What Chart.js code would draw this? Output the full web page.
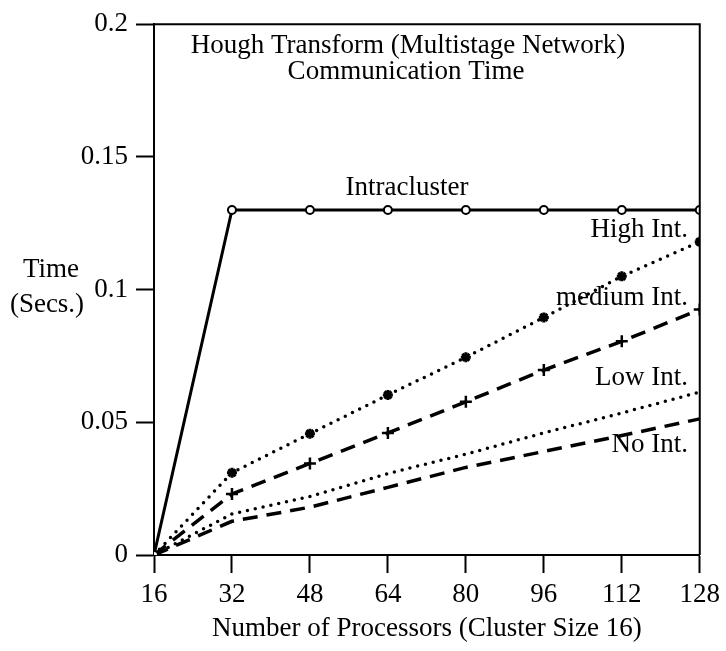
<!DOCTYPE html>
<html>
<head>
<meta charset="utf-8">
<script src="https://cdn.jsdelivr.net/npm/chart.js@4/dist/chart.umd.min.js"></script>
<style>
  html, body { margin: 0; padding: 0; background: #fff; }
  #wrap { width: 726px; height: 651px; }
</style>
</head>
<body>
<div id="wrap"><canvas id="chart" width="726" height="651"></canvas></div>
<script>
// processors on the x axis
const processors = [16, 32, 48, 64, 80, 96, 112, 128];
// communication time (secs) per configuration
const intracluster = [0, 0.13, 0.13, 0.13, 0.13, 0.13, 0.13, 0.13];
const highInt = [0, 0.031, 0.0457, 0.0603, 0.0745, 0.0895, 0.105, 0.118];
const mediumInt = [0, 0.023, 0.0345, 0.046, 0.0577, 0.0697, 0.0805, 0.0925];
const lowInt = [0, 0.0155, 0.022, 0.0307, 0.038, 0.046, 0.0535, 0.0614];
const noInt = [0, 0.0127, 0.018, 0.0255, 0.033, 0.039, 0.045, 0.0513];

const yTicks = [0, 0.05, 0.1, 0.15, 0.2];

const titleLines = ['Hough Transform (Multistage Network)', 'Communication Time'];
const yTitleLines = ['Time', '(Secs.)'];
const xTitle = 'Number of Processors (Cluster Size 16)';

const FONT = '"Liberation Serif", "DejaVu Serif", serif';

Chart.defaults.font.family = FONT;
Chart.defaults.color = '#000';

function toPoints(values) {
  return values.map((v, i) => ({ x: processors[i], y: v }));
}

const dotted = { borderDash: [0, 8], borderCapStyle: 'round', borderWidth: 3.5 };
const dashed = { borderDash: [15, 9], borderCapStyle: 'butt', borderWidth: 3.5 };

// labels placed inside the plot, plus the boxed frame
const annotations = {
  id: 'annotations',
  afterDraw(chart) {
    const { ctx, chartArea: a, scales } = chart;
    ctx.save();
    ctx.strokeStyle = '#000';
    ctx.lineWidth = 2;
    ctx.beginPath();
    ctx.moveTo(a.left, a.top);
    ctx.lineTo(a.right, a.top);
    ctx.lineTo(a.right, a.bottom);
    ctx.stroke();

    ctx.fillStyle = '#000';
    ctx.textBaseline = 'middle';
    ctx.font = '27px ' + FONT;

    ctx.textAlign = 'center';
    ctx.fillText(titleLines[0], 408, 46);
    ctx.fillText(titleLines[1], 406, 72);
    ctx.fillText('Intracluster', 407, scales.y.getPixelForValue(intracluster[1]) - 22);

    ctx.textAlign = 'right';
    ctx.fillText('High Int.', 688, 230);
    ctx.fillText('medium Int.', 688, 298);
    ctx.fillText('Low Int.', 688, 378);
    ctx.fillText('No Int.', 688, 445);

    ctx.textAlign = 'center';
    ctx.fillText(yTitleLines[0], 51, 270);
    ctx.fillText(yTitleLines[1], 47, 305);
    ctx.restore();
  }
};

new Chart(document.getElementById('chart'), {
  type: 'line',
  data: {
    datasets: [
      {
        label: 'Intracluster',
        data: toPoints(intracluster),
        borderColor: '#000',
        borderWidth: 3,
        pointStyle: 'circle',
        pointRadius: 4,
        pointBackgroundColor: '#fff',
        pointBorderColor: '#000',
        pointBorderWidth: 2
      },
      {
        label: 'High Int.',
        data: toPoints(highInt),
        borderColor: '#000',
        ...dotted,
        pointStyle: 'star',
        pointRadius: 5,
        pointBorderColor: '#000',
        pointBorderWidth: 3
      },
      {
        label: 'medium Int.',
        data: toPoints(mediumInt),
        borderColor: '#000',
        ...dashed,
        pointStyle: 'cross',
        pointRadius: 6,
        pointBorderColor: '#000',
        pointBorderWidth: 2.5
      },
      {
        label: 'Low Int.',
        data: toPoints(lowInt),
        borderColor: '#000',
        ...dotted,
        pointRadius: 0
      },
      {
        label: 'No Int.',
        data: toPoints(noInt),
        borderColor: '#000',
        ...dashed,
        pointRadius: 0
      }
    ]
  },
  options: {
    responsive: false,
    animation: false,
    layout: { padding: { top: 21, right: 24, bottom: 0, left: 0 } },
    plugins: {
      legend: { display: false },
      tooltip: { enabled: false }
    },
    elements: { line: { tension: 0 } },
    scales: {
      x: {
        type: 'linear',
        min: 16,
        max: 128,
        afterFit(scale) { scale.height = 96; },
        ticks: {
          stepSize: 16,
          padding: 6,
          font: { size: 27 },
          color: '#000'
        },
        grid: {
          drawOnChartArea: false,
          drawTicks: true,
          tickLength: 18,
          tickWidth: 2,
          tickColor: '#000'
        },
        border: { display: true, color: '#000', width: 2 },
        title: {
          display: true,
          text: xTitle,
          font: { size: 27 },
          color: '#000',
          padding: { top: 0, bottom: 6 }
        }
      },
      y: {
        type: 'linear',
        min: 0,
        max: 0.2,
        afterFit(scale) { scale.width = 154; },
        afterBuildTicks(scale) {
          scale.ticks = yTicks.map((v) => ({ value: v }));
        },
        ticks: {
          padding: 8,
          font: { size: 27 },
          color: '#000',
          callback: (v) => String(v)
        },
        grid: {
          drawOnChartArea: false,
          drawTicks: true,
          tickLength: 18,
          tickWidth: 2,
          tickColor: '#000'
        },
        border: { display: true, color: '#000', width: 2 }
      }
    }
  },
  plugins: [annotations]
});
</script>
</body>
</html>
